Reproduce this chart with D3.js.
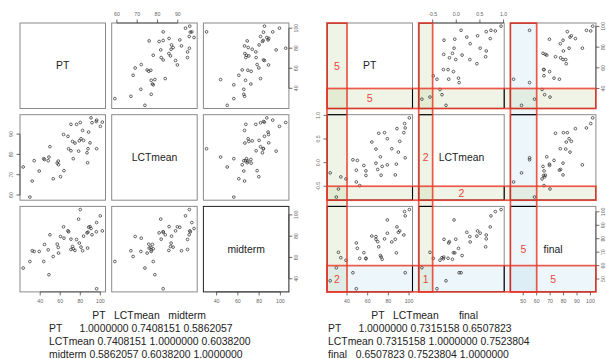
<!DOCTYPE html>
<html>
<head>
<meta charset="utf-8">
<script src="https://cdn.jsdelivr.net/npm/d3@7"></script>
<style>
	body { margin: 0; background: #fff; }
	svg { display: block; }
	text { font-family: 'Liberation Sans', Arial, sans-serif; }
</style>
</head>
<body>
<svg id="chart" width="606" height="359"></svg>
<script>
// left matrix: PT / LCTmean / midterm
const leftNames = ['PT', 'LCTmean', 'midterm'];
const leftPT = [23, 29.7, 32, 34, 39, 43.5, 44.3, 48, 48.7, 49.7, 53, 57, 58, 58.3, 60.3, 63.7, 63.3, 67.7, 68.3, 70.7, 70.7, 72.3, 73, 74.7, 76.3, 78.3, 79, 80, 80.7, 82.3, 83.3, 86.7, 87.3, 87.7, 88.3, 89.7, 90.7, 91.7, 96.3, 96, 96.3, 100, 102];
const leftLCT = [73.8, 59, 66.9, 76.9, 71.8, 77.9, 77.5, 76.9, 78.7, 83.8, 68, 75.7, 76.7, 74.9, 69, 72, 89.8, 88.9, 82.8, 81.8, 94.8, 86.4, 77.9, 85.6, 94.8, 81.6, 86.7, 95.7, 87.7, 91.8, 86.9, 80.8, 75.9, 82.8, 91, 85.7, 98, 95.6, 96.9, 96.2, 82.8, 93.8, 95.9];
const leftMid = [50, 56.2, 66.3, 65.6, 65.6, 56.2, 72.2, 67.2, 43.8, 81.3, 60.9, 72.5, 69.4, 64.1, 79.7, 78.1, 88.8, 85, 84.1, 77.2, 67.5, 70.3, 68.1, 66.6, 76.9, 96, 73.5, 105, 69.7, 66.3, 80, 83.1, 68.8, 83.8, 88.4, 89, 87.2, 81.3, 92.8, 84.1, 30.6, 99.1, 85];
const leftTicks = [[40, 60, 80, 100], [60, 70, 80, 90], [40, 60, 80, 100]];
const leftCor = [
	'               PT   LCTmean   midterm',
	'PT      1.0000000 0.7408151 0.5862057',
	'LCTmean 0.7408151 1.0000000 0.6038200',
	'midterm 0.5862057 0.6038200 1.0000000'
];

// right matrix: PT / LCTmean (scaled) / final
const rightNames = ['PT', 'LCTmean', 'final'];
const rightPT = [29.7, 31.7, 52.3, 49, 39, 34, 86.7, 87.7, 96.3, 89.7, 83.3, 91, 95, 96.3, 95.7, 88.3, 100.3, 79, 76.3, 73, 74, 79, 69.7, 68, 72.3, 68, 64, 70.7, 58.3, 58.3, 56.3, 50, 49, 45.7, 23.7];
const rightLCT = [-0.728, -0.557, -0.485, -0.409, -0.345, -0.302, -0.26, -0.032, 0.102, 0.223, 0.294, 0.451, 0.634, 0.734, 0.826, 0.719, 0.947, 0.506, 0.634, -0.266, -0.081, -0.047, -0.145, -0.011, 0.123, 0.287, 0.436, 0.621, -0.174, -0.272, -0.06, 0.047, -0.16, 0.06, -0.217];
const rightFinal = [58.4, 69.9, 65.4, 42.8, 64, 65.9, 79.6, 69.5, 54.7, 84.8, 77.6, 85.8, 82.8, 97, 100.2, 88.8, 101.7, 84.1, 79.9, 66.4, 64.7, 94, 77.8, 79.6, 67.5, 81.6, 82, 74, 65.5, 65.1, 69.6, 72.9, 76.9, 54.7, 48.7];
const rightTicks = [[40, 60, 80, 100], [-0.5, 0, 0.5, 1], [50, 60, 70, 80, 90, 100]];
const rightCuts = [40, -0.5, 60];
const rightCor = [
	'               PT   LCTmean       final',
	'PT      1.0000000 0.7315158 0.6507823',
	'LCTmean 0.7315158 1.0000000 0.7523804',
	'final   0.6507823 0.7523804 1.0000000'
];

const SIZE = 85.5;
const STEP = 91.7;
const TOP = 23;
const GREEN = 'rgba(170,195,120,0.18)';
const BLUE = 'rgba(150,200,225,0.17)';
const RED = '#ea3b2c';

const svg = d3.select('#chart');

// R style range: data extent plus 4% each side
function padded(values) {
	const [lo, hi] = d3.extent(values);
	const pad = (hi - lo) * 0.04;
	return [lo - pad, hi + pad];
}

function drawAxis(g, side, scale, values, fmt, ox, oy) {
	const horiz = side === 'top' || side === 'bottom';
	const out = side === 'top' || side === 'left' ? -1 : 1;
	const gap = side === 'right' ? 7.5 : 9;
	const pos = (v) => (horiz ? ox : oy) + scale(v);
	const ends = d3.extent(values.map(pos));
	const a = g.append('g');
	if (horiz) {
		a.append('line').attr('x1', ends[0]).attr('x2', ends[1]).attr('y1', oy).attr('y2', oy);
	} else {
		a.append('line').attr('y1', ends[0]).attr('y2', ends[1]).attr('x1', ox).attr('x2', ox);
	}
	a.selectAll('line.tick')
		.data(values)
		.join('line')
		.attr('class', 'tick')
		.attr('x1', (d) => (horiz ? pos(d) : ox))
		.attr('x2', (d) => (horiz ? pos(d) : ox + out * 3.5))
		.attr('y1', (d) => (horiz ? oy : pos(d)))
		.attr('y2', (d) => (horiz ? oy + out * 3.5 : pos(d)));
	a.selectAll('line').attr('stroke', '#444').attr('stroke-width', 0.8);
	a.selectAll('text')
		.data(values)
		.join('text')
		.attr('transform', (d) => {
			const x = horiz ? pos(d) : ox + out * gap;
			const y = horiz ? oy + out * gap : pos(d);
			return `translate(${x},${y})` + (horiz ? '' : ' rotate(-90)');
		})
		.attr('text-anchor', 'middle')
		.attr('dominant-baseline', 'central')
		.attr('font-size', 5.2)
		.attr('fill', '#666')
		.text(fmt);
}

function drawMatrix(x0, cols, names, ticks, fmt, darkLast) {
	const n = cols.length;
	const sx = cols.map((c) => d3.scaleLinear().domain(padded(c)).range([0, SIZE]));
	const sy = cols.map((c) => d3.scaleLinear().domain(padded(c)).range([SIZE, 0]));
	const px = (j) => x0 + j * STEP;
	const py = (i) => TOP + i * STEP;

	const root = svg.append('g');
	const layers = {
		fill: root.append('g'),
		box: root.append('g'),
		dark: root.append('g'),
		dots: root.append('g'),
		top: root.append('g')
	};

	const cells = d3.cross(d3.range(n), d3.range(n));
	layers.box
		.selectAll('rect')
		.data(cells)
		.join('rect')
		.attr('x', (d) => px(d[1]))
		.attr('y', (d) => py(d[0]))
		.attr('width', SIZE)
		.attr('height', SIZE)
		.attr('fill', 'none')
		.attr('stroke', (d) => (darkLast && d[0] === n - 1 && d[1] === n - 1 ? '#222' : '#8a8a8a'))
		.attr('stroke-width', 1);

	// scatter panels
	const idx = d3.range(cols[0].length);
	cells
		.filter((d) => d[0] !== d[1])
		.forEach(([i, j]) => {
			layers.dots
				.append('g')
				.attr('transform', `translate(${px(j)},${py(i)})`)
				.selectAll('circle')
				.data(idx)
				.join('circle')
				.attr('cx', (k) => sx[j](cols[j][k]))
				.attr('cy', (k) => sy[i](cols[i][k]))
				.attr('r', 1.35)
				.attr('fill', 'none')
				.attr('stroke', '#333')
				.attr('stroke-width', 0.75);
		});

	// diagonal names
	layers.dots
		.selectAll('text.name')
		.data(names)
		.join('text')
		.attr('class', 'name')
		.attr('x', (d, i) => px(i) + SIZE / 2)
		.attr('y', (d, i) => py(i) + SIZE / 2)
		.attr('text-anchor', 'middle')
		.attr('dominant-baseline', 'central')
		.attr('font-size', 10.4)
		.attr('fill', '#222')
		.text((d) => d);

	// axes alternate like pairs()
	for (let j = 0; j < n; j++) {
		if (j % 2 === 1) drawAxis(layers.top, 'top', sx[j], ticks[j], fmt[j], px(j), py(0));
		else drawAxis(layers.top, 'bottom', sx[j], ticks[j], fmt[j], px(j), py(n - 1) + SIZE);
	}
	for (let i = 0; i < n; i++) {
		if (i % 2 === 1) drawAxis(layers.top, 'left', sy[i], ticks[i], fmt[i], px(0), py(i));
		else drawAxis(layers.top, 'right', sy[i], ticks[i], fmt[i], px(n - 1) + SIZE, py(i));
	}

	return { sx, sy, px, py, n, cells, layers };
}

function drawTable(x, lines) {
	svg.append('g')
		.selectAll('text')
		.data(lines)
		.join('text')
		.attr('x', x)
		.attr('y', (d, i) => 315 + i * 13.3)
		.attr('dominant-baseline', 'central')
		.attr('xml:space', 'preserve')
		.style('white-space', 'pre')
		.attr('font-size', 10.4)
		.attr('fill', '#222')
		.text((d) => d);
}

const intFmt = (v) => String(v);
const oneFmt = (v) => v.toFixed(1);

drawMatrix(20, [leftPT, leftLCT, leftMid], leftNames, leftTicks, [intFmt, intFmt, intFmt], true);
drawTable(49, leftCor);

const cols = [rightPT, rightLCT, rightFinal];
const m = drawMatrix(327, cols, rightNames, rightTicks, [intFmt, oneFmt, intFmt], false);

// highlighted low-value strips
const fills = [GREEN, GREEN, BLUE];
const strips = [];
for (let j = 0; j < m.n; j++) {
	strips.push({
		x: m.px(j),
		y: m.py(0),
		w: m.sx[j](rightCuts[j]),
		h: m.py(m.n - 1) + SIZE - m.py(0),
		fill: fills[j]
	});
}
for (let i = 0; i < m.n; i++) {
	strips.push({
		x: m.px(0),
		y: m.py(i) + m.sy[i](rightCuts[i]),
		w: m.px(m.n - 1) + SIZE - m.px(0),
		h: SIZE - m.sy[i](rightCuts[i]),
		fill: fills[i]
	});
}

m.layers.fill
	.selectAll('rect')
	.data(strips)
	.join('rect')
	.attr('x', (d) => d.x)
	.attr('y', (d) => d.y)
	.attr('width', (d) => d.w)
	.attr('height', (d) => d.h)
	.attr('fill', (d) => d.fill);

// panel borders turn black inside the strips
const clip = svg.append('defs').append('clipPath').attr('id', 'strip-clip');
clip.selectAll('rect')
	.data(strips)
	.join('rect')
	.attr('x', (d) => d.x)
	.attr('y', (d) => d.y)
	.attr('width', (d) => d.w)
	.attr('height', (d) => d.h);
m.layers.dark
	.attr('clip-path', 'url(#strip-clip)')
	.selectAll('rect')
	.data(m.cells)
	.join('rect')
	.attr('x', (d) => m.px(d[1]))
	.attr('y', (d) => m.py(d[0]))
	.attr('width', SIZE)
	.attr('height', SIZE)
	.attr('fill', 'none')
	.attr('stroke', '#000')
	.attr('stroke-width', 1.1);

m.layers.top
	.append('g')
	.selectAll('rect')
	.data(strips)
	.join('rect')
	.attr('x', (d) => d.x)
	.attr('y', (d) => d.y)
	.attr('width', (d) => d.w)
	.attr('height', (d) => d.h)
	.attr('fill', 'none')
	.attr('stroke', RED)
	.attr('stroke-opacity', 0.85)
	.attr('stroke-width', 1.7);

// counts of low values
const low = (j, k) => cols[j][k] < rightCuts[j];
const idx = d3.range(rightPT.length);
const labels = [];
for (let j = 0; j < m.n; j++) {
	const c = idx.filter((k) => low(j, k)).length;
	const sw = m.sx[j](rightCuts[j]);
	const sh = SIZE - m.sy[j](rightCuts[j]);
	labels.push({ x: m.px(j) + sw / 2, y: m.py(j) + SIZE / 2, t: c });
	labels.push({ x: m.px(j) + SIZE / 2, y: m.py(j) + SIZE - sh / 2, t: c });
}
const last = m.n - 1;
const lastH = SIZE - m.sy[last](rightCuts[last]);
for (let j = 0; j < last; j++) {
	const c = idx.filter((k) => low(j, k) && low(last, k)).length;
	labels.push({ x: m.px(j) + m.sx[j](rightCuts[j]) / 2, y: m.py(last) + SIZE - lastH / 2, t: c });
}
m.layers.top
	.append('g')
	.selectAll('text')
	.data(labels)
	.join('text')
	.attr('x', (d) => d.x)
	.attr('y', (d) => d.y)
	.attr('text-anchor', 'middle')
	.attr('dominant-baseline', 'central')
	.attr('font-size', 10.5)
	.attr('fill', '#e8473a')
	.text((d) => d.t);

drawTable(328, rightCor);
</script>
</body>
</html>
